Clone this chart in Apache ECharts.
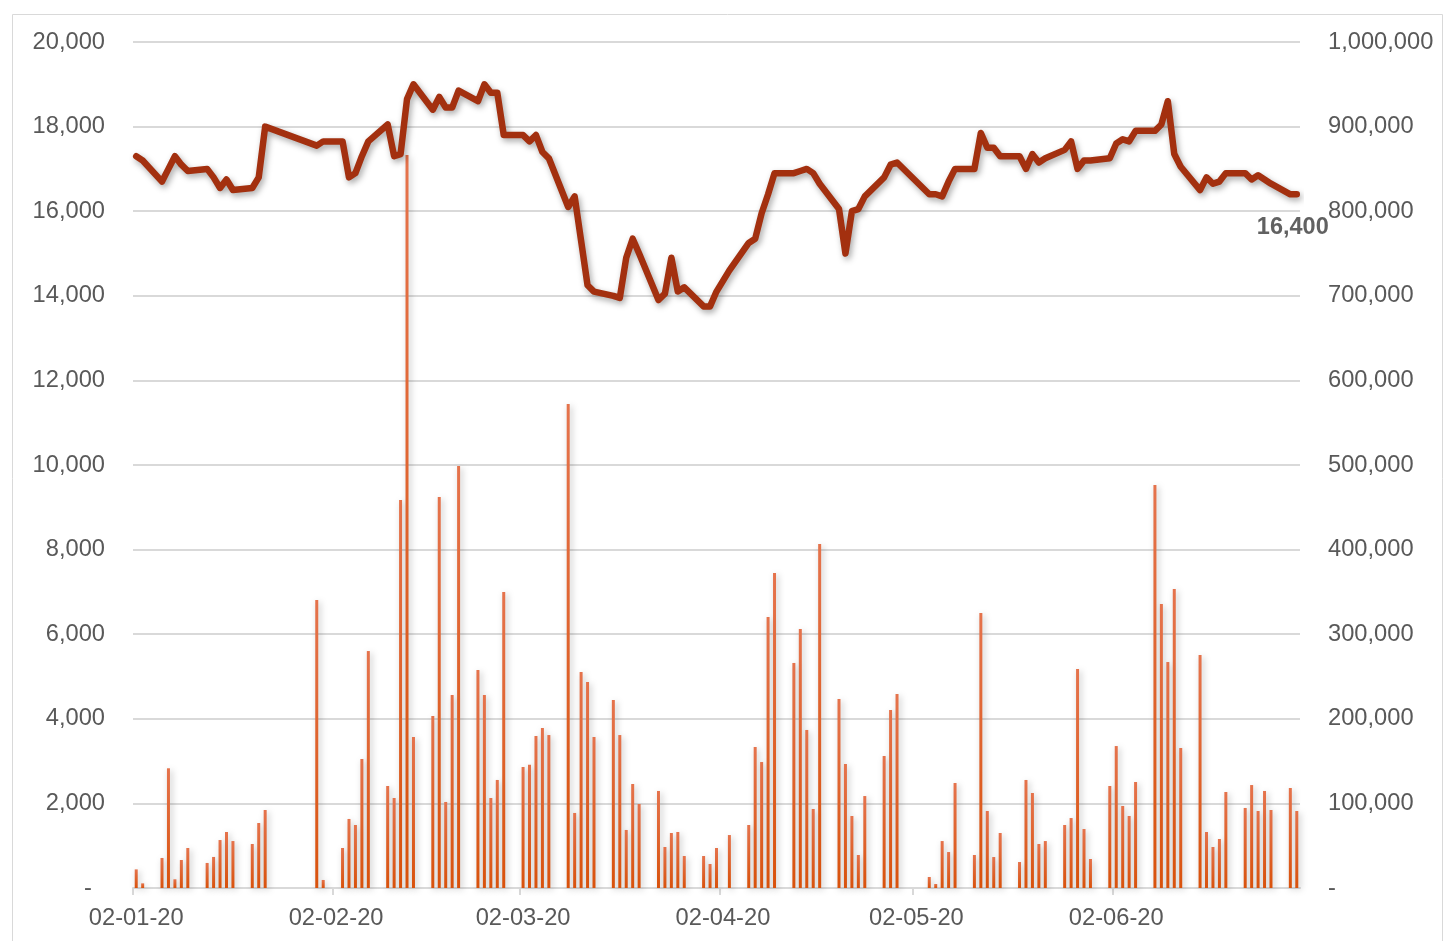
<!DOCTYPE html>
<html>
<head>
<meta charset="utf-8">
<script src="https://cdn.jsdelivr.net/npm/echarts@6/dist/echarts.min.js"></script>
<style>
  body{margin:0;background:#fff}
  #main{width:1450px;height:941px}
</style>
</head>
<body>
<div id="main"></div>
<script>
// trading days (Vietnam, H1 2020)
var dates = [
  '2020-01-02','2020-01-03','2020-01-06','2020-01-07','2020-01-08','2020-01-09','2020-01-10','2020-01-13','2020-01-14','2020-01-15','2020-01-16','2020-01-17','2020-01-20','2020-01-21','2020-01-22','2020-01-30','2020-01-31',
  '2020-02-03','2020-02-04','2020-02-05','2020-02-06','2020-02-07','2020-02-10','2020-02-11','2020-02-12','2020-02-13','2020-02-14','2020-02-17','2020-02-18','2020-02-19','2020-02-20','2020-02-21','2020-02-24','2020-02-25','2020-02-26','2020-02-27','2020-02-28',
  '2020-03-02','2020-03-03','2020-03-04','2020-03-05','2020-03-06','2020-03-09','2020-03-10','2020-03-11','2020-03-12','2020-03-13','2020-03-16','2020-03-17','2020-03-18','2020-03-19','2020-03-20','2020-03-23','2020-03-24','2020-03-25','2020-03-26','2020-03-27','2020-03-30','2020-03-31',
  '2020-04-01','2020-04-03','2020-04-06','2020-04-07','2020-04-08','2020-04-09','2020-04-10','2020-04-13','2020-04-14','2020-04-15','2020-04-16','2020-04-17','2020-04-20','2020-04-21','2020-04-22','2020-04-23','2020-04-24','2020-04-27','2020-04-28','2020-04-29',
  '2020-05-04','2020-05-05','2020-05-06','2020-05-07','2020-05-08','2020-05-11','2020-05-12','2020-05-13','2020-05-14','2020-05-15','2020-05-18','2020-05-19','2020-05-20','2020-05-21','2020-05-22','2020-05-25','2020-05-26','2020-05-27','2020-05-28','2020-05-29',
  '2020-06-01','2020-06-02','2020-06-03','2020-06-04','2020-06-05','2020-06-08','2020-06-09','2020-06-10','2020-06-11','2020-06-12','2020-06-15','2020-06-16','2020-06-17','2020-06-18','2020-06-19','2020-06-22','2020-06-23','2020-06-24','2020-06-25','2020-06-26','2020-06-29','2020-06-30'
];

// close price (left axis)
var price = [
  17300,17200,16700,17000,17300,17100,16950,17000,16800,16550,16750,16500,16550,16800,18000,17550,17650,
  17650,16800,16900,17300,17650,18050,17300,17350,18650,19000,18400,18700,18450,18450,18850,18600,19000,18800,18800,17800,
  17800,17650,17800,17400,17250,16100,16350,15300,14250,14100,14000,13950,14900,15350,15000,13900,14050,14900,14100,14200,13750,13750,
  14100,14600,15250,15350,15950,16400,16900,16900,16950,17000,16900,16650,16050,15000,16000,16050,16350,16800,17100,17150,
  16400,16400,16350,16700,17000,17000,17850,17500,17500,17300,17300,17000,17350,17150,17250,17450,17650,17000,17200,17200,
  17250,17600,17700,17650,17900,17900,18050,18600,17350,17050,16500,16800,16650,16700,16900,16900,16750,16850,16750,16650,16400,16400
];

// volume (right axis)
var volume = [
  22000,5500,35500,141500,10300,33100,47300,29600,36700,56700,66200,55500,52000,76800,92200,340400,9500,
  47300,81600,74500,152500,280100,120600,106400,458600,866400,178500,203300,462200,101700,228100,498800,257700,228100,106400,127700,349900,
  143000,145700,179700,189100,180800,572100,88700,255300,243500,178500,222200,180800,68600,122900,99300,114700,48500,65000,66200,37800,37800,28400,
  47300,62600,74500,166700,148900,320300,372300,266000,306100,186800,93400,406600,223400,146600,85100,39000,108700,156000,210400,229300,
  13000,4700,55500,42500,124100,39000,325000,91000,36600,65000,30700,127700,112300,52000,55500,74500,82700,258900,69700,34300,
  120600,167800,96900,85100,125300,476300,335700,267100,353400,165500,275400,66200,48500,57900,113500,94600,121700,91000,114700,92200,118200,91000
];

var monthTicks = ['2020-01-02','2020-02-02','2020-03-02','2020-04-02','2020-05-02','2020-06-02'];

var base = Date.UTC(2020, 0, 2);
function dayOf(s) {
  var p = s.split('-');
  return Math.round((Date.UTC(+p[0], p[1] - 1, +p[2]) - base) / 86400000);
}
function pad(n) { return (n < 10 ? '0' : '') + n; }
function dayLabel(d) {
  var t = new Date(base + Math.round(d) * 86400000);
  return pad(t.getUTCDate()) + '-' + pad(t.getUTCMonth() + 1) + '-' + String(t.getUTCFullYear()).slice(2);
}
function num(v) { return v.toString().replace(/\B(?=(\d{3})+(?!\d))/g, ','); }

var priceData = [], volData = [];
for (var i = 0; i < dates.length; i++) {
  var d = dayOf(dates[i]);
  priceData.push([d, price[i]]);
  volData.push([d, volume[i]]);
}
var last = priceData[priceData.length - 1];

var labelStyle = { color: '#595959', fontSize: 23.7, fontFamily: 'Liberation Sans, Arial, sans-serif' };

var myChart = echarts.init(document.getElementById('main'));
myChart.setOption({
  animation: false,
  graphic: [{
    type: 'rect', left: 10, top: 12,
    shape: { width: 1430, height: 940 },
    style: { fill: 'none', stroke: '#d9d9d9', lineWidth: 1 }
  }],
  grid: { left: 133, right: 150, top: 42, bottom: 53 },
  xAxis: {
    type: 'value',
    min: -0.5,
    max: 180.5,
    splitLine: { show: false },
    axisLine: { lineStyle: { color: '#d9d9d9', width: 2 } },
    axisTick: {
      show: true, length: 7, inside: false,
      lineStyle: { color: '#d9d9d9', width: 2 },
      customValues: monthTicks.map(function (s) { return dayOf(s) - 0.5; })
    },
    axisLabel: Object.assign({
      margin: 18,
      customValues: monthTicks.map(dayOf),
      formatter: function (v) { return dayLabel(v); }
    }, labelStyle)
  },
  yAxis: [
    {
      type: 'value', min: 0, max: 20000, interval: 2000,
      axisLine: { show: false }, axisTick: { show: false },
      splitLine: { lineStyle: { color: '#d9d9d9', width: 2 } },
      axisLabel: Object.assign({
        margin: 28,
        formatter: function (v) { return v === 0 ? '-  ' : num(v); }
      }, labelStyle)
    },
    {
      type: 'value', min: 0, max: 1000000, interval: 100000,
      axisLine: { show: false }, axisTick: { show: false },
      splitLine: { show: false },
      axisLabel: Object.assign({
        margin: 28,
        formatter: function (v) { return v === 0 ? '-' : num(v); }
      }, labelStyle)
    }
  ],
  series: [
    {
      name: 'volume',
      type: 'bar',
      yAxisIndex: 1,
      barWidth: 3,
      data: volData,
      itemStyle: {
        color: new echarts.graphic.LinearGradient(0, 0, 0, 1, [
          { offset: 0, color: '#e5734c' },
          { offset: 1, color: '#d9520c' }
        ]),
        shadowColor: 'rgba(0,0,0,0.25)', shadowBlur: 6, shadowOffsetX: 2, shadowOffsetY: 2
      }
    },
    {
      name: 'price',
      type: 'line',
      symbol: 'none',
      data: priceData,
      lineStyle: {
        color: '#a3300f', width: 6.5, join: 'round', cap: 'round',
        shadowColor: 'rgba(0,0,0,0.35)', shadowBlur: 6, shadowOffsetX: 2, shadowOffsetY: 3
      },
      z: 3
    },
    {
      name: 'last',
      type: 'scatter',
      symbolSize: 1,
      itemStyle: { color: 'rgba(0,0,0,0)' },
      data: [last],
      label: {
        show: true, position: 'bottom', distance: 21, offset: [-4, 0],
        formatter: function (p) { return num(p.value[1]); },
        color: '#3a3a3a', fontSize: 23.5, fontWeight: 'bold',
        fontFamily: 'Liberation Sans, Arial, sans-serif'
      },
      z: 4
    }
  ]
});
</script>
</body>
</html>
